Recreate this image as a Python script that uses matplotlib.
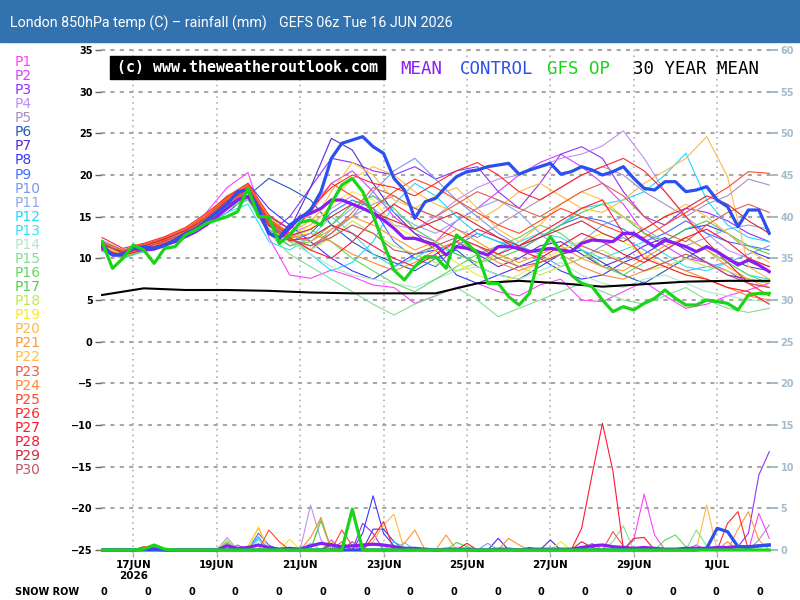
import matplotlib
matplotlib.use("Agg")
import matplotlib.pyplot as plt
import matplotlib.patches as mpatches
import numpy as np

# ---- time axis: hours after 16 JUN 06z ----
HOURS_6H = np.arange(0, 385, 6)
HOURS_12H = np.arange(0, 385, 12)
HOURS_24H = np.arange(0, 385, 24)
DATE_LABELS = ["17JUN\n2026", "19JUN", "21JUN", "23JUN", "25JUN", "27JUN", "29JUN", "1JUL"]
FIRST_DATE_HOUR = 18  # 17 JUN 00z

# ---- 850hPa temperature (C), 6-hourly ----
MEAN_T = [11.3, 10.4, 10.4, 11.2, 11.0, 11.1, 11.6, 12.0, 12.6, 13.2,
          14.0, 15.0, 16.0, 17.0, 17.4, 15.6, 13.0, 12.4, 13.6, 15.0,
          15.4, 16.0, 17.0, 17.0, 16.5, 16.0, 15.4, 14.6, 13.6, 12.4,
          12.4, 12.0, 11.6, 10.4, 11.4, 11.2, 10.8, 10.4, 11.4, 11.4,
          11.2, 10.8, 11.0, 11.2, 11.0, 10.8, 11.8, 12.2, 12.1, 12.0,
          13.0, 13.0, 12.2, 11.4, 12.2, 11.8, 11.4, 10.8, 11.4, 10.8,
          10.0, 9.2, 9.8, 9.2, 8.4]
CONTROL_T = [11.6, 10.4, 10.5, 11.2, 11.4, 11.2, 11.5, 12.2, 13.0, 13.5,
             14.5, 15.5, 16.5, 18.0, 18.2, 16.0, 13.0, 12.5, 14.0, 14.8,
             15.8, 18.0, 22.0, 23.8, 24.2, 24.6, 23.4, 22.6, 19.6, 18.2,
             14.8, 16.8, 17.2, 18.6, 19.8, 20.4, 20.6, 21.0, 21.2, 21.4,
             20.1, 20.6, 21.0, 21.4, 20.1, 20.4, 21.0, 20.6, 20.0, 20.4,
             21.0, 19.6, 18.4, 18.2, 19.2, 19.2, 18.0, 18.2, 18.6, 17.0,
             16.2, 13.8, 15.8, 15.8, 13.0]
GFS_OP_T = [12.0, 8.8, 10.0, 11.6, 11.0, 9.4, 11.2, 11.4, 12.8, 13.4,
            14.2, 14.6, 15.0, 15.6, 18.4, 15.0, 15.0, 11.8, 12.8, 14.3,
            14.6, 14.0, 16.6, 18.8, 19.6, 18.0, 15.2, 11.8, 8.6, 7.4,
            9.0, 10.2, 10.2, 8.8, 12.8, 11.8, 10.6, 7.0, 7.0, 5.4,
            4.4, 5.8, 10.6, 12.6, 10.8, 8.0, 7.0, 6.6, 5.0, 3.6,
            4.2, 3.8, 4.6, 5.2, 6.2, 5.2, 4.4, 4.4, 5.0, 4.8,
            4.6, 3.8, 5.6, 5.8, 5.8]
# 30 year mean, daily
CLIM_T = [5.6, 6.4, 6.2, 6.2, 6.1, 5.9, 5.8, 5.8, 5.8, 7.0, 7.3, 7.0, 6.6, 6.9, 7.2, 7.3, 7.3]

# ---- perturbation members, 12-hourly ----
P1_T = [11.5, 10.2, 11.0, 11.8, 13.0, 15.5, 18.5, 20.3, 12.5, 8.0, 7.6, 8.6, 7.8, 6.8, 6.5, 4.6, 5.5,
        6.5, 7.0, 6.0, 5.5, 6.8, 7.5, 5.0, 4.8, 6.0, 7.2, 5.5, 4.0, 4.5, 5.5, 6.2, 7.0]
P2_T = [11.0, 10.5, 10.8, 12.0, 13.5, 15.0, 17.5, 18.5, 14.0, 12.5, 16.0, 19.0, 20.5, 18.0, 15.0, 13.0, 12.0,
        14.5, 16.0, 18.0, 20.0, 21.5, 22.5, 21.0, 19.0, 16.5, 13.0, 11.5, 10.0, 9.5, 8.5, 7.0, 6.5]
P3_T = [11.8, 10.8, 11.2, 12.2, 12.5, 14.5, 16.5, 17.5, 13.0, 15.0, 18.5, 22.0, 21.5, 20.5, 20.0, 21.0, 19.5,
        20.5, 21.0, 18.0, 16.0, 19.0, 22.5, 23.4, 22.0, 18.0, 15.0, 14.0, 16.0, 15.5, 14.5, 13.0, 12.0]
P4_T = [12.0, 10.6, 11.3, 11.8, 13.0, 14.8, 17.0, 18.0, 14.5, 13.0, 14.0, 16.0, 17.5, 16.0, 14.0, 13.5, 15.0,
        17.0, 18.5, 19.5, 20.0, 21.0, 22.0, 22.5, 23.5, 25.3, 22.0, 18.0, 15.0, 13.0, 11.0, 10.0, 9.0]
P5_T = [11.2, 10.0, 11.0, 11.5, 12.8, 14.5, 16.5, 17.0, 13.5, 12.0, 11.0, 13.5, 15.0, 16.5, 17.5, 16.0, 15.0,
        13.5, 12.5, 14.0, 15.5, 17.0, 18.5, 20.0, 21.0, 20.0, 18.0, 16.5, 15.0, 16.5, 17.5, 19.5, 18.8]
P6_T = [11.5, 10.8, 11.5, 12.0, 12.8, 14.0, 15.5, 17.5, 19.6, 18.4, 17.0, 14.0, 12.0, 10.5, 9.5, 8.5, 10.0,
        11.0, 9.0, 8.0, 7.5, 9.0, 10.5, 11.0, 9.5, 8.0, 7.0, 8.5, 10.0, 11.5, 10.0, 9.0, 8.5]
P7_T = [11.0, 10.2, 11.0, 11.8, 13.2, 15.0, 17.5, 18.5, 15.0, 13.5, 18.5, 24.4, 23.0, 19.0, 15.5, 13.0, 11.0,
        12.0, 10.5, 9.0, 10.0, 11.5, 12.0, 10.5, 9.0, 10.0, 11.5, 12.5, 11.0, 9.5, 8.0, 7.5, 7.0]
P8_T = [11.6, 10.4, 11.2, 12.4, 13.0, 14.8, 16.5, 19.0, 16.0, 14.0, 12.0, 10.0, 8.5, 7.5, 9.0, 10.5, 11.0,
        8.0, 7.0, 8.0, 9.0, 10.0, 8.5, 7.5, 8.0, 9.5, 10.5, 12.0, 13.5, 14.0, 13.0, 11.0, 10.0]
P9_T = [11.8, 10.9, 11.0, 12.2, 13.0, 14.5, 16.0, 17.5, 14.0, 12.0, 13.0, 15.5, 17.0, 16.0, 12.0, 10.0, 9.0,
        11.5, 13.0, 12.0, 11.0, 12.5, 14.0, 15.0, 14.5, 13.5, 12.0, 13.0, 14.5, 13.0, 12.0, 11.5, 11.0]
P10_T = [11.0, 10.5, 11.3, 12.0, 13.5, 15.0, 16.8, 18.0, 14.5, 12.5, 11.0, 13.0, 15.0, 18.0, 20.5, 22.0, 19.5,
         17.0, 15.0, 13.0, 11.5, 10.5, 9.0, 10.0, 11.5, 12.5, 11.0, 9.5, 8.5, 9.0, 9.5, 10.5, 11.5]
P11_T = [12.2, 11.0, 11.5, 12.5, 13.0, 14.5, 16.0, 17.0, 13.5, 11.5, 12.5, 14.0, 16.0, 17.5, 15.5, 14.0, 13.0,
         14.5, 16.0, 17.0, 15.5, 13.0, 11.0, 12.0, 14.0, 15.0, 13.5, 12.0, 11.5, 12.5, 13.5, 14.0, 13.5]
P12_T = [11.4, 10.3, 11.1, 12.1, 13.1, 14.6, 16.5, 18.0, 14.0, 12.5, 10.5, 8.5, 9.5, 12.0, 16.5, 19.0, 17.5,
         15.0, 13.0, 12.0, 11.5, 12.5, 14.0, 16.0, 16.5, 17.0, 18.0, 20.0, 22.6, 17.0, 14.0, 12.5, 12.0]
P13_T = [10.8, 10.0, 10.8, 11.5, 12.5, 14.0, 15.5, 16.5, 12.0, 11.0, 12.5, 15.0, 13.0, 10.5, 9.0, 10.0, 11.5,
         10.5, 9.5, 10.5, 12.0, 13.0, 12.5, 11.0, 10.0, 11.0, 12.0, 10.5, 9.0, 8.5, 9.5, 8.0, 7.5]
P14_T = [11.3, 10.6, 11.4, 12.0, 13.0, 14.5, 16.5, 17.8, 14.0, 12.0, 10.5, 9.0, 8.0, 7.5, 7.0, 6.5, 7.5,
         8.5, 9.0, 8.0, 7.5, 8.5, 9.5, 8.0, 7.0, 6.5, 7.5, 8.0, 7.0, 6.0, 5.5, 5.0, 4.8]
P15_T = [11.6, 10.4, 11.2, 11.8, 12.6, 14.0, 16.0, 17.0, 13.0, 10.5, 9.0, 7.5, 6.0, 4.5, 3.2, 4.5, 5.5,
         6.5, 5.0, 3.0, 4.0, 5.0, 6.0, 7.0, 6.0, 5.0, 4.5, 5.5, 6.5, 5.0, 4.0, 3.5, 4.0]
P16_T = [12.0, 10.8, 11.5, 12.2, 13.2, 15.0, 17.0, 18.0, 14.5, 12.5, 13.5, 12.0, 10.0, 8.5, 7.0, 6.0, 7.5,
         9.0, 10.5, 11.5, 12.5, 14.0, 13.0, 11.0, 9.0, 8.0, 9.5, 11.0, 12.5, 11.0, 9.5, 8.0, 7.0]
P17_T = [11.1, 10.1, 10.9, 11.7, 12.7, 14.2, 16.2, 17.2, 13.2, 11.5, 12.0, 14.0, 16.5, 17.5, 16.0, 13.5, 12.0,
         10.5, 9.5, 10.0, 11.0, 12.5, 14.0, 15.5, 16.5, 15.0, 13.0, 12.0, 13.5, 14.5, 13.0, 11.5, 10.5]
P18_T = [11.5, 10.7, 11.3, 11.9, 12.9, 14.3, 16.3, 17.3, 13.6, 12.0, 11.0, 12.5, 14.5, 13.0, 11.5, 10.5, 9.5,
         8.5, 9.5, 10.5, 9.0, 8.0, 9.0, 10.0, 11.0, 9.5, 8.5, 9.0, 10.0, 9.0, 8.5, 7.5, 7.0]
P19_T = [11.7, 10.5, 11.4, 12.3, 13.3, 14.7, 16.7, 18.2, 14.3, 12.2, 13.5, 16.5, 18.0, 17.0, 14.0, 12.5, 11.0,
         9.5, 8.0, 7.0, 8.0, 9.5, 11.0, 12.0, 13.0, 12.0, 10.5, 9.0, 8.0, 7.5, 6.5, 6.0, 5.5]
P20_T = [11.2, 10.2, 11.0, 12.0, 13.4, 15.2, 17.5, 19.0, 15.0, 13.0, 14.5, 17.0, 19.5, 21.0, 20.0, 18.0, 16.5,
         15.5, 14.5, 16.0, 18.0, 19.0, 17.5, 16.0, 15.5, 17.0, 19.0, 20.5, 22.0, 24.6, 19.8, 9.0, 7.5]
P21_T = [11.9, 10.9, 11.6, 12.5, 13.6, 15.3, 17.3, 18.8, 14.8, 12.8, 12.0, 13.5, 15.0, 14.0, 12.5, 11.0, 12.0,
         13.5, 12.0, 10.5, 9.5, 10.5, 11.5, 10.0, 9.0, 8.5, 10.0, 11.5, 12.5, 11.0, 9.0, 7.5, 6.5]
P22_T = [11.4, 10.4, 11.3, 12.2, 13.2, 14.9, 16.9, 18.4, 14.6, 12.6, 14.0, 18.0, 21.5, 20.0, 17.0, 16.0, 17.5,
         18.5, 16.0, 13.5, 12.0, 14.0, 16.5, 18.0, 17.0, 15.0, 13.5, 15.0, 16.5, 15.0, 13.0, 11.0, 9.5]
P23_T = [12.0, 11.0, 11.7, 12.4, 13.5, 15.1, 17.1, 18.6, 14.4, 12.2, 11.5, 13.0, 15.5, 18.5, 17.5, 16.0, 15.0,
         16.5, 18.0, 17.0, 16.0, 15.0, 16.5, 18.0, 19.0, 17.5, 15.0, 13.0, 12.0, 14.0, 15.5, 16.5, 15.5]
P24_T = [11.3, 10.3, 11.1, 11.9, 13.1, 14.6, 16.6, 18.1, 14.1, 12.4, 13.0, 12.0, 10.5, 9.5, 8.5, 9.5, 11.0,
         12.0, 11.0, 9.5, 8.5, 9.5, 10.5, 9.0, 8.0, 7.5, 8.5, 9.5, 8.5, 7.5, 6.5, 5.5, 5.0]
P25_T = [11.7, 10.7, 11.4, 12.3, 13.4, 15.0, 17.2, 18.7, 14.7, 13.0, 15.5, 19.0, 17.5, 16.0, 18.0, 19.5, 18.5,
         17.0, 15.5, 14.0, 13.0, 14.5, 16.0, 15.0, 14.0, 13.0, 12.5, 14.0, 15.5, 17.0, 18.5, 20.4, 20.2]
P26_T = [12.5, 11.2, 11.8, 12.6, 13.7, 15.4, 17.4, 19.0, 15.2, 13.5, 16.0, 18.5, 20.0, 19.0, 18.5, 17.5, 19.0,
         20.5, 21.5, 20.0, 18.0, 17.0, 18.5, 20.0, 21.0, 22.0, 20.5, 18.0, 15.0, 12.0, 9.5, 7.0, 5.5]
P27_T = [11.8, 10.6, 11.2, 12.1, 13.0, 14.6, 16.8, 18.3, 14.0, 12.5, 11.0, 10.0, 12.0, 14.5, 16.5, 15.0, 13.5,
         12.5, 11.5, 10.5, 11.5, 13.0, 14.5, 16.0, 17.0, 13.0, 10.0, 9.0, 8.0, 7.5, 6.5, 6.0, 4.5]
P28_T = [11.0, 10.4, 11.0, 11.8, 12.8, 14.4, 16.4, 17.9, 13.9, 12.1, 12.5, 14.0, 13.0, 11.5, 10.0, 9.0, 10.5,
         12.0, 13.5, 12.5, 11.0, 10.0, 11.5, 13.0, 12.0, 10.5, 9.5, 11.0, 12.5, 13.5, 12.0, 10.0, 9.0]
P29_T = [11.6, 10.8, 11.5, 12.3, 13.3, 14.8, 16.9, 18.4, 14.5, 12.7, 13.5, 15.0, 16.5, 15.5, 14.5, 13.5, 14.5,
         15.5, 14.0, 12.5, 11.5, 12.5, 13.5, 14.5, 13.0, 12.0, 13.5, 15.0, 16.0, 17.5, 16.5, 14.5, 13.0]
P30_T = [11.9, 10.5, 11.3, 12.0, 13.1, 14.7, 16.7, 18.1, 14.2, 12.3, 11.5, 12.5, 14.0, 13.0, 11.0, 10.5, 11.5,
         12.5, 11.5, 10.0, 9.0, 9.5, 10.5, 11.5, 10.5, 9.5, 8.5, 9.5, 10.5, 9.5, 8.0, 7.0, 6.5]

# ---- rainfall (mm), 6-hourly; members as (step, mm) where non-zero ----
MEAN_RAIN = [0, 0, 0, 0, 0.1, 0.1, 0, 0, 0, 0,
             0, 0, 0.5, 0.2, 0.3, 0.6, 0.3, 0.1, 0.2, 0.1,
             0.5, 0.8, 0.6, 0.4, 0.5, 0.6, 0.7, 0.6, 0.4, 0.2,
             0.2, 0.1, 0, 0.1, 0.1, 0.1, 0, 0, 0.1, 0.1,
             0, 0.1, 0.1, 0.1, 0.1, 0.1, 0.3, 0.5, 0.6, 0.4,
             0.3, 0.2, 0.3, 0.2, 0.1, 0.1, 0.2, 0.2, 0.2, 0.3,
             0.3, 0.4, 0.4, 0.5, 0.6]
CONTROL_RAIN = [(58, 0.2), (59, 2.6), (60, 2.2), (61, 0.4), (62, 0.3), (63, 0.5), (64, 0.6)]
GFS_OP_RAIN = [(4, 0.1), (5, 0.6), (6, 0.1), (24, 4.9)]
P1_RAIN = [(12, 0.8), (51, 1.2), (52, 6.7), (53, 1.8), (63, 4.4), (64, 1.4)]
P2_RAIN = [(13, 0.6), (22, 1.2), (57, 0.6)]
P3_RAIN = [(25, 3.2), (26, 2.0), (61, 0.4), (62, 2.0), (63, 9.0), (64, 11.8)]
P4_RAIN = [(12, 1.5), (20, 5.4), (21, 1.2)]
P5_RAIN = [(63, 1.2), (64, 3.0)]
P6_RAIN = [(22, 0.6), (41, 0.3)]
P7_RAIN = [(26, 2.5), (27, 2.5), (28, 1.0), (38, 1.4), (43, 1.2)]
P8_RAIN = [(25, 2.0), (26, 6.5), (27, 2.0), (28, 0.5)]
P9_RAIN = [(12, 0.6), (15, 2.0), (16, 0.6)]
P10_RAIN = [(15, 1.6), (37, 0.8), (47, 0.8)]
P11_RAIN = [(15, 1.2), (23, 0.6)]
P12_RAIN = [(15, 1.4), (28, 1.0), (29, 0.3)]
P13_RAIN = [(20, 0.8), (29, 0.9)]
P14_RAIN = [(15, 1.2), (22, 1.0)]
P15_RAIN = [(21, 3.8), (49, 1.0), (50, 2.9), (57, 2.4), (58, 0.5)]
P16_RAIN = [(12, 1.0), (54, 1.2), (55, 1.8), (56, 0.4)]
P17_RAIN = [(21, 3.5), (34, 0.9), (35, 0.4)]
P18_RAIN = [(12, 1.2), (22, 1.0)]
P19_RAIN = [(15, 2.8), (18, 1.3), (44, 1.0)]
P20_RAIN = [(26, 1.0), (27, 3.0), (28, 4.3), (58, 5.4)]
P21_RAIN = [(29, 0.8), (30, 2.4), (33, 1.8), (61, 2.5), (62, 4.6), (63, 1.2)]
P22_RAIN = [(14, 0.5), (15, 2.6)]
P23_RAIN = [(23, 1.0), (49, 2.2), (50, 0.5)]
P24_RAIN = [(20, 1.5), (21, 3.9), (39, 1.4), (40, 0.6), (60, 1.0)]
P25_RAIN = [(16, 2.4), (17, 1.0), (23, 2.4), (24, 0.5)]
P26_RAIN = [(4, 0.4), (5, 0.3), (26, 1.5), (27, 3.4), (60, 3.2), (61, 4.6)]
P27_RAIN = [(46, 2.6), (47, 9.0), (48, 15.2), (49, 9.5), (50, 0.2)]
P28_RAIN = [(35, 0.8), (51, 1.4), (52, 1.5)]
P29_RAIN = [(22, 0.8), (46, 1.0), (47, 0.3)]
P30_RAIN = [(24, 1.0)]

SNOW_ROW = [0, 0, 0, 0, 0, 0, 0, 0, 0, 0, 0, 0, 0, 0, 0, 0]

MEMBER_T = [P1_T, P2_T, P3_T, P4_T, P5_T, P6_T, P7_T, P8_T, P9_T, P10_T,
            P11_T, P12_T, P13_T, P14_T, P15_T, P16_T, P17_T, P18_T, P19_T, P20_T,
            P21_T, P22_T, P23_T, P24_T, P25_T, P26_T, P27_T, P28_T, P29_T, P30_T]
MEMBER_RAIN = [P1_RAIN, P2_RAIN, P3_RAIN, P4_RAIN, P5_RAIN, P6_RAIN, P7_RAIN, P8_RAIN, P9_RAIN, P10_RAIN,
               P11_RAIN, P12_RAIN, P13_RAIN, P14_RAIN, P15_RAIN, P16_RAIN, P17_RAIN, P18_RAIN, P19_RAIN, P20_RAIN,
               P21_RAIN, P22_RAIN, P23_RAIN, P24_RAIN, P25_RAIN, P26_RAIN, P27_RAIN, P28_RAIN, P29_RAIN, P30_RAIN]
MEMBER_COLOURS = ["#ff40ff", "#d840ff", "#9030ff", "#c090f0", "#a890c0", "#2858b8", "#5030d0", "#3838ff",
                  "#4070ff", "#7898f0", "#8ca8f0", "#20d8ff", "#30e0f8", "#b0e8c8", "#80e090", "#60d860",
                  "#50d050", "#c0e850", "#f8e830", "#ffb848", "#ff9830", "#ffc040", "#e06048", "#ff8838",
                  "#ff4828", "#ff2828", "#ff1830", "#f01838", "#d02838", "#c05868"]

MEAN_COL = "#8a1cf5"
CONTROL_COL = "#2a50f0"
GFS_COL = "#19d419"
RIGHT_COL = "#a4bccb"

W, H = 800, 600


def px_box(x0, y0, x1, y1):
    return [x0 / W, 1 - y1 / H, (x1 - x0) / W, (y1 - y0) / H]


def spikes_to_series(spikes):
    r = np.zeros(len(HOURS_6H))
    for step, mm in spikes:
        r[step] = mm
    return r


fig = plt.figure(figsize=(8, 6), dpi=100)

# title bar
fig.patches.append(mpatches.Rectangle((0, 1 - 42 / H), 1, 42 / H, transform=fig.transFigure,
                                      color="#3272ae", zorder=1))
fig.text(10 / W, 1 - 23 / H, "London 850hPa temp (C) \u2013 rainfall (mm)", color="white",
         fontsize=10.3, family="Roboto", va="center", zorder=2)
fig.text(279 / W, 1 - 23 / H, "GEFS 06z Tue 16 JUN 2026", color="white",
         fontsize=10.3, family="Roboto", va="center", zorder=2)

ax = fig.add_axes(px_box(101, 47, 771, 553))
ax.set_xlim(-0.6, 385)
ax.set_ylim(-25.36, 35.36)
for s in ax.spines.values():
    s.set_visible(False)

yt = list(range(-25, 36, 5))
ax.set_yticks(yt, [str(v).replace("-", "\u2212") for v in yt], fontsize=7, fontweight="bold")
xt = [FIRST_DATE_HOUR + 48 * k for k in range(len(DATE_LABELS))]
ax.set_xticks(xt, DATE_LABELS, fontsize=7.5, fontweight="bold", linespacing=1.1)
ax.tick_params(axis="y", length=4, width=1, color="#666666", pad=2)
ax.tick_params(axis="x", length=3, width=1, color="#aaaaaa", pad=2)
ax.grid(axis="y", color="#a8a8a8", ls=(0, (2, 2.5)), lw=1.5)
ax.grid(axis="x", color="#b0b0b0", ls=(0, (1, 2.5)), lw=1.2)
ax.set_axisbelow(True)

ax2 = ax.twinx()
ax2.set_ylim(-0.36, 60.36)
for s in ax2.spines.values():
    s.set_visible(False)
rt = list(range(0, 61, 5))
ax2.set_yticks(rt, [str(v) for v in rt], fontsize=7, fontweight="bold", color=RIGHT_COL)
ax2.tick_params(axis="y", length=5, width=1.5, color=RIGHT_COL, pad=2)

# members
for temps, spikes, col in zip(MEMBER_T, MEMBER_RAIN, MEMBER_COLOURS):
    ax.plot(HOURS_12H, temps, color=col, lw=0.8, zorder=2)
    ax2.plot(HOURS_6H, spikes_to_series(spikes), color=col, lw=0.8, zorder=2)

ax.plot(HOURS_24H, CLIM_T, color="black", lw=1.5, zorder=3)
ax.plot(HOURS_6H, MEAN_T, color=MEAN_COL, lw=2.3, zorder=4)
ax.plot(HOURS_6H, CONTROL_T, color=CONTROL_COL, lw=2.3, zorder=5)
ax.plot(HOURS_6H, GFS_OP_T, color=GFS_COL, lw=2.3, zorder=6)
ax2.plot(HOURS_6H, MEAN_RAIN, color=MEAN_COL, lw=2.3, zorder=4)
ax2.plot(HOURS_6H, spikes_to_series(CONTROL_RAIN), color=CONTROL_COL, lw=2.3, zorder=5)
ax2.plot(HOURS_6H, spikes_to_series(GFS_OP_RAIN), color=GFS_COL, lw=2.3, zorder=6)

# copyright box and line key
fig.patches.append(mpatches.Rectangle((110 / W, 1 - 79 / H), 275 / W, 23 / H, transform=fig.transFigure,
                                      color="black", zorder=1))
fig.text(247.5 / W, 1 - 67.5 / H, "(c) www.theweatheroutlook.com", color="white", fontsize=10.8,
         family="DejaVu Sans Mono", fontweight="bold", ha="center", va="center", zorder=2)
for label, col, x0 in [("MEAN", MEAN_COL, 400), ("CONTROL", CONTROL_COL, 460),
                       ("GFS OP", GFS_COL, 547), ("30 YEAR MEAN", "black", 633)]:
    fig.text(x0 / W, 1 - 69 / H, label, color=col, fontsize=12.5, family="DejaVu Sans Mono",
             va="center")

# member key on the left
for k, col in enumerate(MEMBER_COLOURS):
    fig.text(15 / W, 1 - (62 + 14.07 * k) / H, f"P{k + 1}", color=col, fontsize=10, va="center")

# snow row
fig.text(15 / W, 1 - 592 / H, "SNOW ROW", fontsize=7, fontweight="bold", va="center")
for xp, v in zip(np.linspace(104, 760, len(SNOW_ROW)), SNOW_ROW):
    fig.text(xp / W, 1 - 592 / H, str(v), fontsize=7, fontweight="bold", ha="center", va="center")

fig.savefig("out.png", dpi=100)
